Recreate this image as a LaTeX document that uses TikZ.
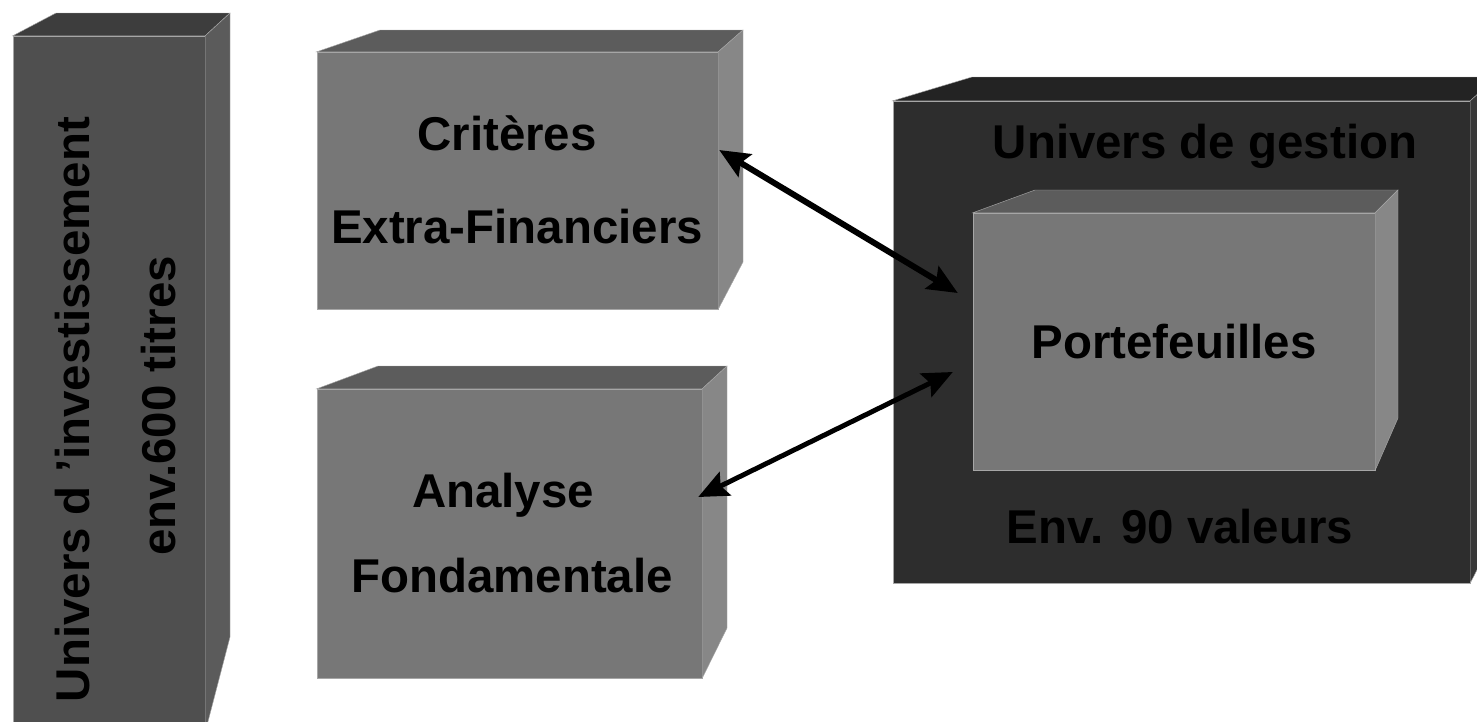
\documentclass[tikz,border=0pt]{standalone}
\usepackage{fontspec}
\setmainfont{Liberation Sans}
\usetikzlibrary{arrows.meta,calc,fit}
\definecolor{sombreface}{HTML}{4F4F4F}
\definecolor{sombrehaut}{HTML}{3D3D3D}
\definecolor{sombrecote}{HTML}{5B5B5B}
\definecolor{grisface}{HTML}{777777}
\definecolor{grishaut}{HTML}{5C5C5C}
\definecolor{griscote}{HTML}{878787}
\definecolor{noirface}{HTML}{2D2D2D}
\definecolor{noirhaut}{HTML}{232323}
\definecolor{noircote}{HTML}{383838}
\tikzset{face/.style={inner sep=0pt,draw=gray!70,line width=0.25pt},
         texte/.style={font=\fontsize{27}{32}\selectfont\bfseries,inner sep=0pt,anchor=base},
         double fleche/.style={{Stealth[length=0.6cm,width=0.52cm,inset=0.1cm]}-{Stealth[length=0.6cm,width=0.52cm,inset=0.1cm]}}}

\begin{document}
\begin{tikzpicture}[x=0.02cm,y=-0.02cm]
    \useasboundingbox (0,0) rectangle (1477,721);
    \clip (0,0) rectangle (1477,721);

    % univers d'investissement
    \node[face,fill=sombreface,fit={(13,36) (205,732)}] (univ) {};
    \filldraw[face,fill=sombrehaut] (univ.north west) -- (56,13) -- (230,13) -- (univ.north east) -- cycle;
    \filldraw[face,fill=sombrecote] (univ.north east) -- (230,13) -- (230,637) -- (univ.south east) -- cycle;

    % criteres
    \node[face,fill=grisface,fit={(317,52) (718,309)}] (crit) {};
    \filldraw[face,fill=grishaut] (crit.north west) -- (380,30) -- (743,30) -- (crit.north east) -- cycle;
    \filldraw[face,fill=griscote] (crit.north east) -- (743,30) -- (743,262) -- (crit.south east) -- cycle;

    % analyse
    \node[face,fill=grisface,fit={(317,389) (702,678)}] (fond) {};
    \filldraw[face,fill=grishaut] (fond.north west) -- (378,366) -- (727,366) -- (fond.north east) -- cycle;
    \filldraw[face,fill=griscote] (fond.north east) -- (727,366) -- (727,628) -- (fond.south east) -- cycle;

    % univers de gestion
    \node[face,fill=noirface,fit={(893,101) (1470,583)}] (gest) {};
    \filldraw[face,fill=noirhaut] (gest.north west) -- (972,77) -- (1497,77) -- (gest.north east) -- cycle;
    \filldraw[face,fill=noircote] (gest.north east) -- (1497,77) -- (1497,530) -- (gest.south east) -- cycle;

    % portefeuilles
    \node[face,fill=grisface,fit={(973,213) (1375,470)}] (port) {};
    \filldraw[face,fill=grishaut] (port.north west) -- (1035,190) -- (1398,190) -- (port.north east) -- cycle;
    \filldraw[face,fill=griscote] (port.north east) -- (1398,190) -- (1398,418) -- (port.south east) -- cycle;

    \node[texte,rotate=90] (univA) at (89,409.5) {Univers d ’investissement};
    \node[texte,rotate=90] (univB) at (175,406) {env.600 titres};
    \node[texte] (critA) at (507,150) {Critères};
    \node[texte] (critB) at (517,243) {Extra-Financiers};
    \node[texte] (fondA) at (503,507) {Analyse};
    \node[texte] (fondB) at (512,592) {Fondamentale};
    \node[texte] (gestA) at (1205,158) {Univers de gestion};
    \node[texte] (gestB) at (1180,543) {Env. 90 valeurs};
    \node[texte] (portA) at (1174,358) {Portefeuilles};

    \coordinate (critP) at ($(crit.east)+(1,-30.5)$);
    \coordinate (fondP) at ($(fond.east)+(-4,-36.5)$);
    \coordinate (portH) at ($(port.west)+(-15,-48.5)$);
    \coordinate (portB) at ($(port.west)+(-20,30.5)$);
    \draw[double fleche,line width=3.4pt] (critP) -- (portH);
    \draw[double fleche,line width=2.8pt] (fondP) -- (portB);
\end{tikzpicture}
\end{document}
